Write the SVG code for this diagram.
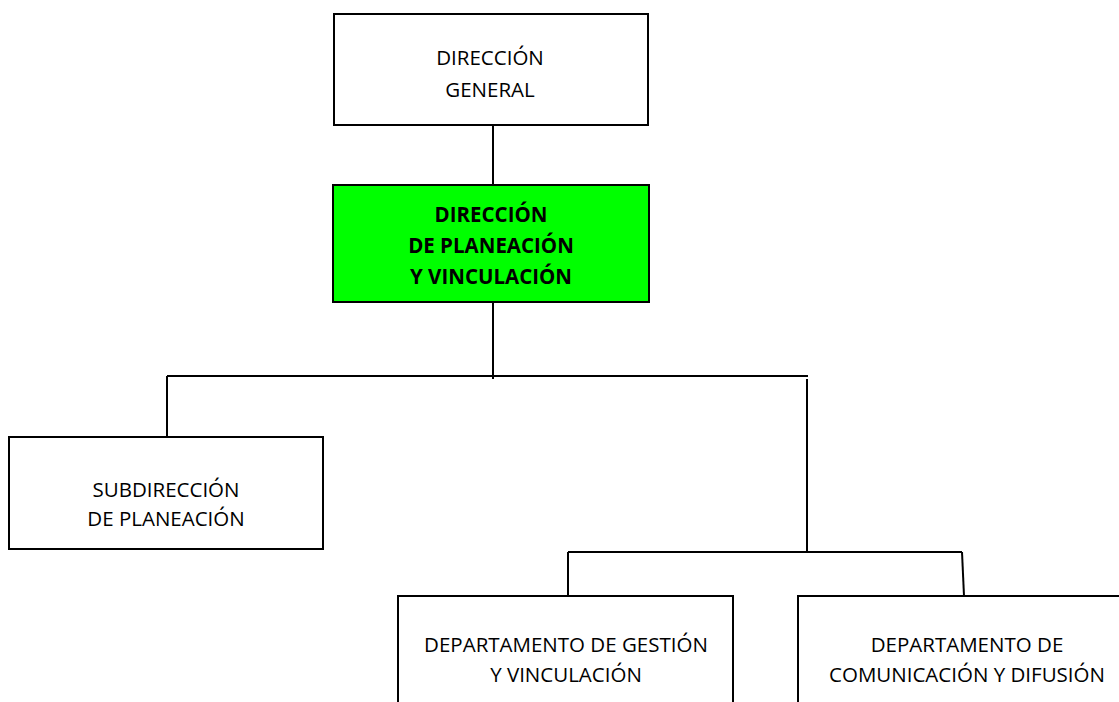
<svg xmlns="http://www.w3.org/2000/svg" width="1119" height="702" viewBox="0 0 1119 702">
  <style>
    .box { fill: #ffffff; stroke: #000000; stroke-width: 2; }
    .hl { fill: #00ff00; }
    .lbl { font-family: "Open Sans", "Noto Sans", sans-serif; font-size: 20.5px; fill: #000000; text-anchor: middle; }
    .bold { font-weight: bold; }
    .wire { fill: none; stroke: #000000; stroke-width: 2; }
  </style>
  <rect width="1119" height="702" fill="#ffffff"/>

  <!-- connectors -->
  <g id="connectors">
    <line class="wire" x1="493" y1="125" x2="493" y2="185"/>
    <line class="wire" x1="493" y1="302" x2="493" y2="379"/>
    <line class="wire" x1="167" y1="376" x2="808" y2="376"/>
    <line class="wire" x1="167" y1="376" x2="167" y2="437"/>
    <line class="wire" x1="807" y1="379" x2="807" y2="552"/>
    <line class="wire" x1="568" y1="552" x2="962" y2="552"/>
    <line class="wire" x1="568" y1="552" x2="568" y2="596"/>
    <line class="wire" x1="962" y1="552" x2="964" y2="596"/>
  </g>

  <!-- nodes -->
  <g id="direccion-general">
    <rect class="box" x="334" y="14" width="314" height="111"/>
    <text class="lbl" x="490" y="65">DIRECCIÓN</text>
    <text class="lbl" x="490" y="97">GENERAL</text>
  </g>

  <g id="direccion-planeacion">
    <rect class="box hl" x="333" y="185" width="316" height="117"/>
    <text class="lbl bold" x="491" y="222">DIRECCIÓN</text>
    <text class="lbl bold" x="491" y="253">DE PLANEACIÓN</text>
    <text class="lbl bold" x="491" y="284">Y VINCULACIÓN</text>
  </g>

  <g id="subdireccion-planeacion">
    <rect class="box" x="9" y="437" width="314" height="112"/>
    <text class="lbl" x="166" y="497">SUBDIRECCIÓN</text>
    <text class="lbl" x="166" y="526">DE PLANEACIÓN</text>
  </g>

  <g id="depto-gestion">
    <rect class="box" x="398" y="596" width="335" height="120"/>
    <text class="lbl" x="566" y="652">DEPARTAMENTO DE GESTIÓN</text>
    <text class="lbl" x="566" y="682">Y VINCULACIÓN</text>
  </g>

  <g id="depto-comunicacion">
    <rect class="box" x="798" y="596" width="340" height="120"/>
    <text class="lbl" x="967" y="652">DEPARTAMENTO DE</text>
    <text class="lbl" x="967" y="682">COMUNICACIÓN Y DIFUSIÓN</text>
  </g>
</svg>
